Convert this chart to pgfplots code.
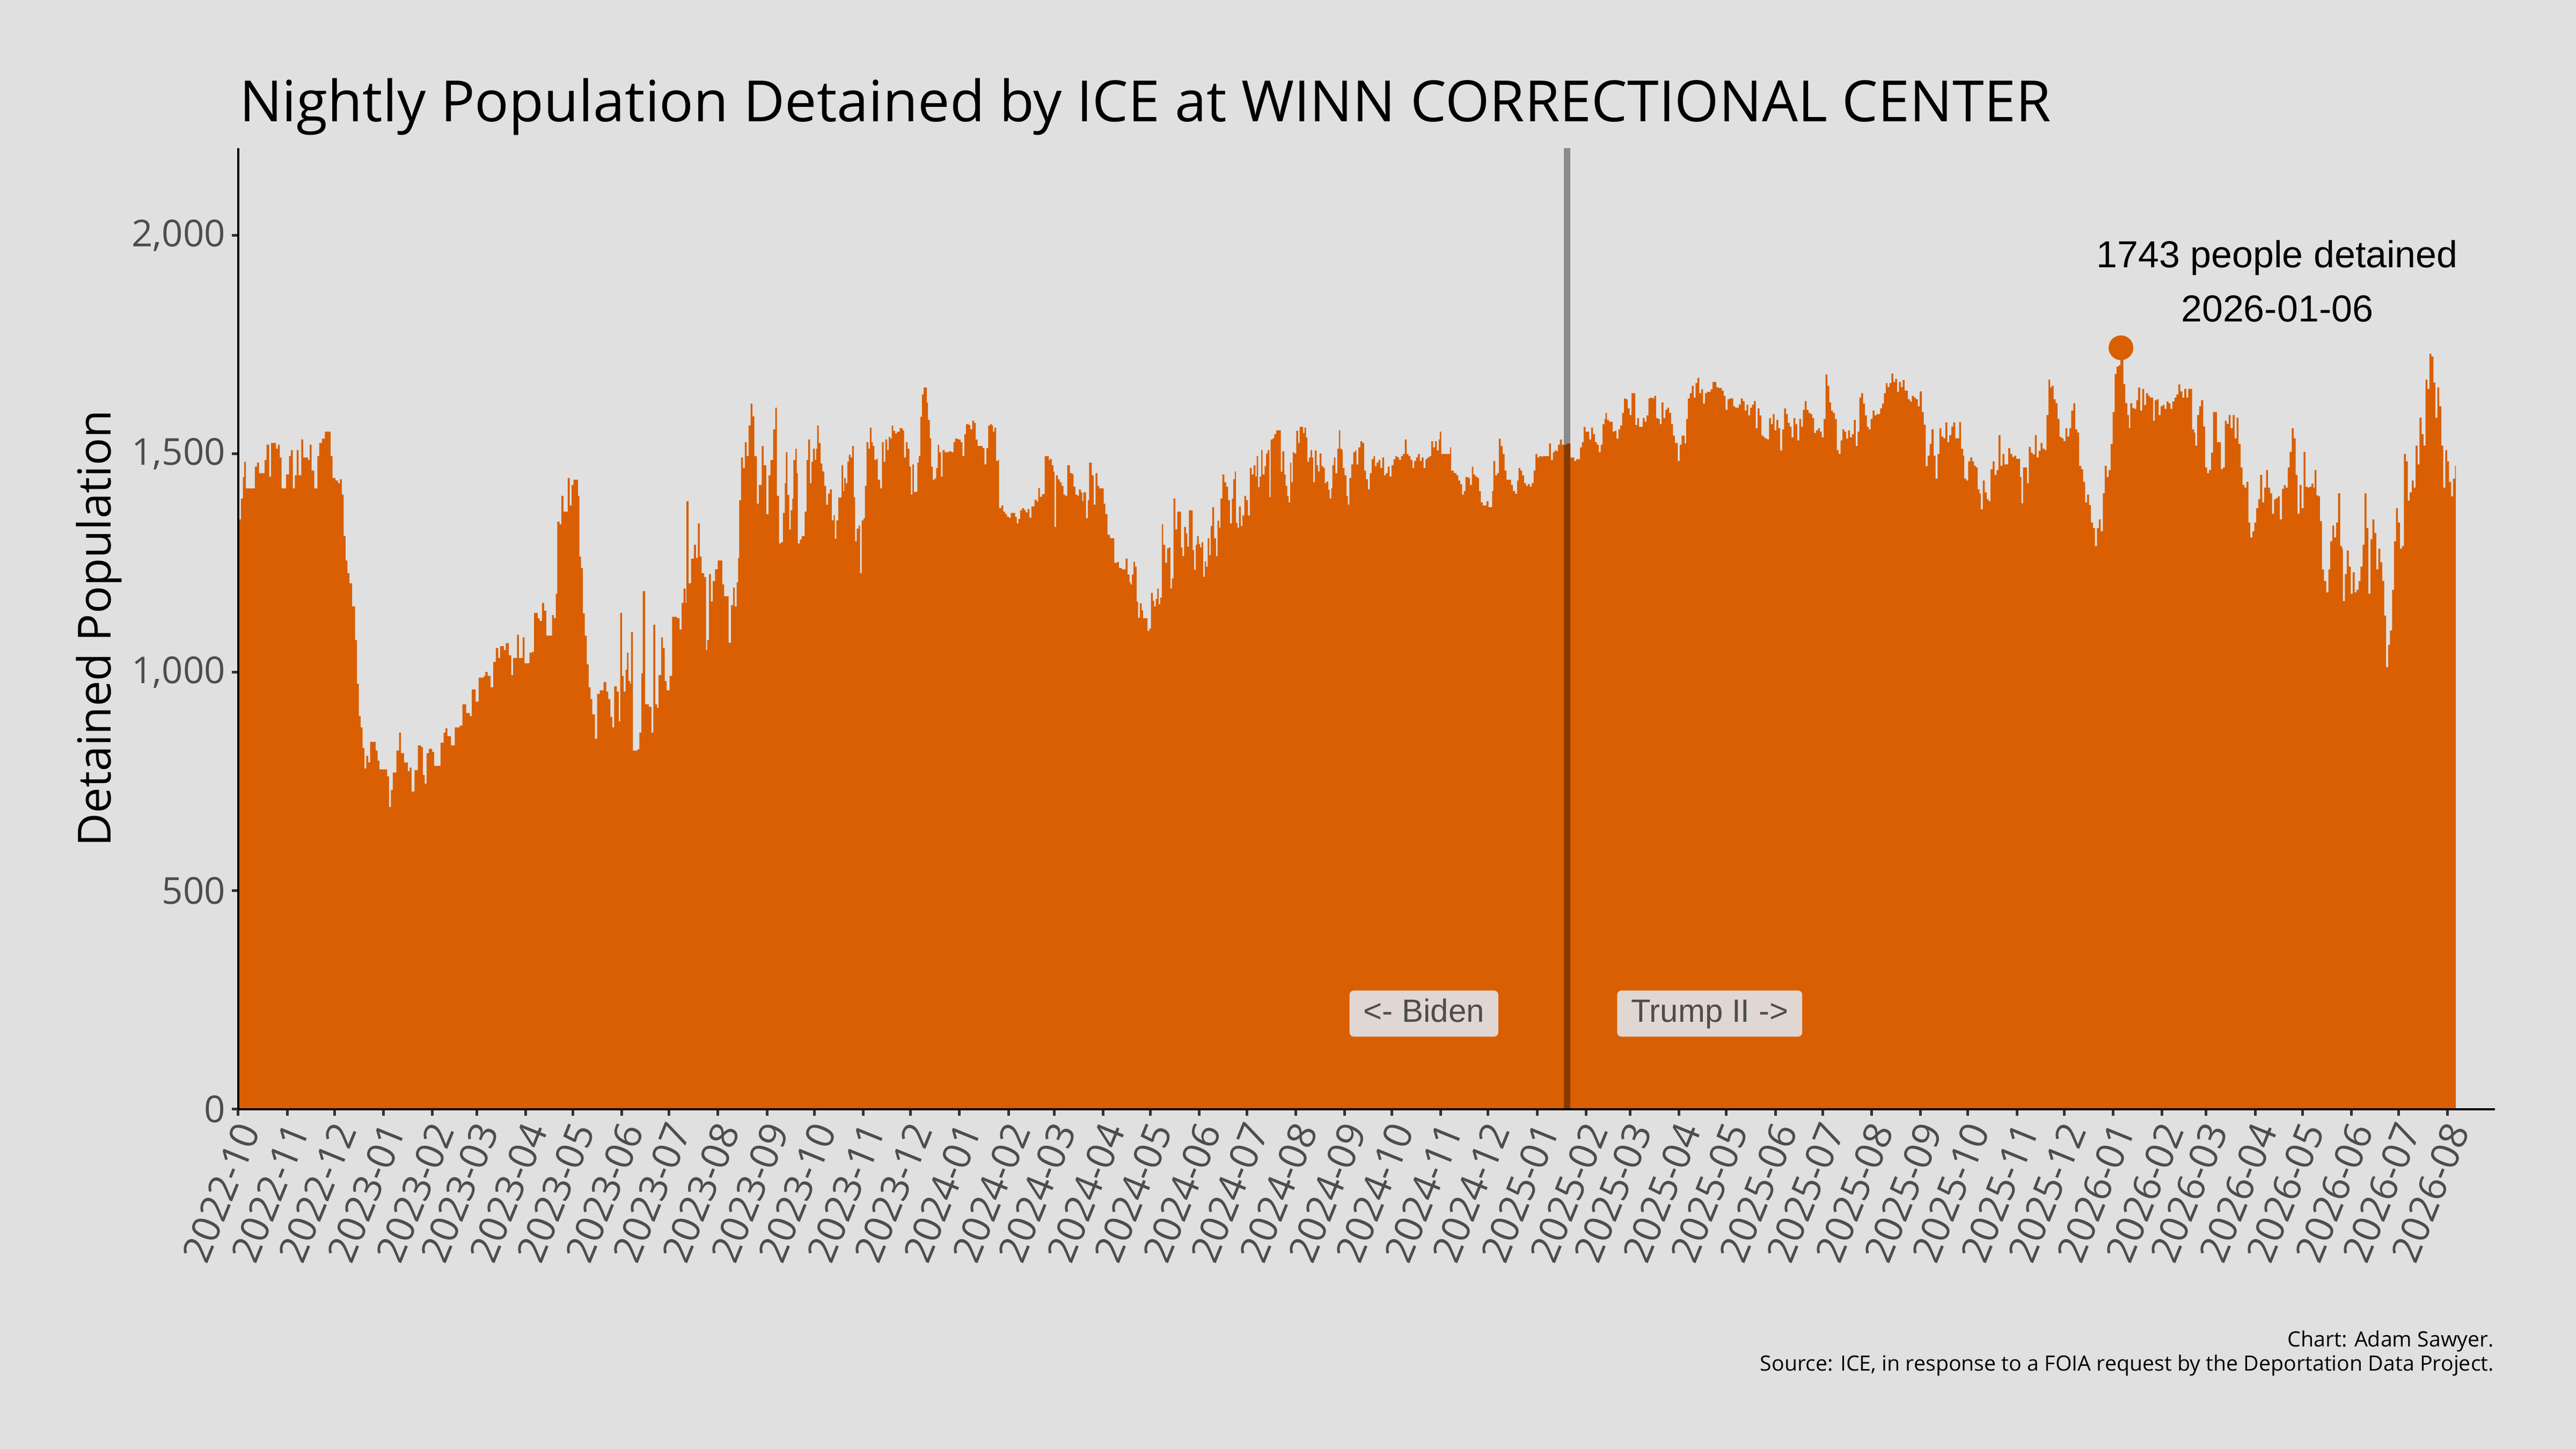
\documentclass[border=0pt]{standalone}
\usepackage{fontspec}
\setmainfont{Open Sans}
\newfontfamily\arialfont{Liberation Sans}
\usepackage{pgfplots}
\pgfplotsset{compat=1.18}
\definecolor{bgc}{RGB}{224,224,224}
\definecolor{ora}{RGB}{217,95,2}
\definecolor{tickc}{RGB}{77,77,77}
\definecolor{tickl}{RGB}{51,51,51}
\definecolor{boxc}{RGB}{224,215,210}
\begin{document}
\begin{tikzpicture}
\fill[bgc] (0,0) rectangle (480pt,270pt);
\useasboundingbox (0,0) rectangle (480pt,270pt);
\begin{axis}[
  at={(44.4pt,63.3pt)}, anchor=south west,
  scale only axis, width=420.5pt, height=179.1pt,
  xmin=0, xmax=1430, ymin=0, ymax=2200,
  axis lines=left, axis line style={-, black, line width=0.45pt},
  axis on top,
  tick align=outside, major tick length=1.2pt,
  tick style={tickl, line width=0.5pt},
  xtick={0,31,61,92,123,151,182,212,243,273,304,335,365,396,426,457,488,517,548,578,609,639,670,701,731,762,792,823,854,882,913,943,974,1004,1035,1066,1096,1127,1157,1188,1219,1247,1278,1308,1339,1369,1400},
  xticklabels={2022-10,2022-11,2022-12,2023-01,2023-02,2023-03,2023-04,2023-05,2023-06,2023-07,2023-08,2023-09,2023-10,2023-11,2023-12,2024-01,2024-02,2024-03,2024-04,2024-05,2024-06,2024-07,2024-08,2024-09,2024-10,2024-11,2024-12,2025-01,2025-02,2025-03,2025-04,2025-05,2025-06,2025-07,2025-08,2025-09,2025-10,2025-11,2025-12,2026-01,2026-02,2026-03,2026-04,2026-05,2026-06,2026-07,2026-08},
  xticklabel style={xshift=2.3pt, yshift=-0.7pt, rotate=68, anchor=east, font=\fontsize{7.2}{8}\selectfont, text=tickc, inner sep=1pt},
  ytick={0,500,1000,1500,2000},
  yticklabels={0,500,{1,000},{1,500},{2,000}},
  yticklabel style={font=\fontsize{6.9}{8}\selectfont, text=tickc, inner sep=1pt},
]
% nightly population
\addplot[const plot, fill=ora, draw=none] coordinates {
(0,1350)(1.7,1398)(2.9,1447)(3.8,1482)(4.8,1421)(10.5,1471)(11.9,1480)(13.1,1456)(16.7,1486)(17.9,1521)(19.6,1448)(20.8,1525)(23.9,1512)(25.1,1521)(26.3,1492)(27.4,1421)(30.3,1453)(32.2,1495)(33.4,1509)(34.6,1421)(35.8,1451)(37.0,1509)(38.2,1451)(39.9,1533)(41.1,1492)(44.2,1486)(45.3,1521)(46.5,1462)(48.2,1421)(50.1,1495)(51.3,1525)(53.0,1535)(54.9,1551)(58.5,1495)(59.7,1445)(61.6,1439)(63.2,1433)(64.4,1442)(65.6,1407)(66.8,1312)(68.0,1256)(69.2,1227)(70.4,1204)(72.1,1151)(74.0,1074)(75.2,974)(76.4,900)(77.6,874)(78.8,827)(80.0,780)(81.1,809)(82.3,794)(83.5,841)(87.1,821)(88.3,798)(89.5,778)(94.3,762)(95.5,692)(96.7,731)(97.9,771)(100.2,821)(101.9,862)(103.1,815)(105.0,794)(107.4,774)(108.6,782)(109.8,727)(111.7,776)(113.8,833)(115.8,829)(116.9,765)(118.1,745)(119.3,815)(120.8,825)(122.9,818)(124.1,786)(128.2,839)(130.1,862)(131.3,872)(132.5,854)(134.8,833)(137.2,874)(140.3,878)(142.0,927)(144.4,907)(146.8,900)(148.0,961)(150.4,933)(152.3,988)(155.6,992)(156.6,1001)(158.0,992)(159.9,966)(161.6,1024)(163.2,1056)(164.7,1033)(165.9,1060)(168.3,1051)(169.5,1067)(171.4,1039)(173.0,994)(174.2,1033)(176.6,1086)(177.8,1033)(180.2,1080)(181.4,1021)(184.5,1045)(186.2,1047)(187.4,1136)(189.7,1124)(190.9,1118)(192.4,1159)(193.8,1141)(195.2,1084)(198.8,1131)(200.0,1124)(201.2,1180)(202.1,1345)(203.6,1339)(204.8,1404)(206.0,1368)(208.8,1445)(210.0,1382)(211.2,1429)(212.4,1441)(215.3,1404)(216.2,1265)(217.2,1239)(218.4,1135)(219.6,1084)(220.8,1018)(222.0,966)(223.2,939)(224.3,904)(226.0,848)(227.4,951)(229.1,959)(231.5,978)(233.2,956)(234.4,939)(235.8,898)(237.0,874)(238.2,968)(239.9,956)(241.1,888)(242.0,1136)(243.2,992)(244.2,956)(245.4,1006)(246.3,1045)(247.3,980)(248.2,974)(248.9,1092)(250.1,821)(253.0,824)(254.2,862)(255.4,998)(256.3,1186)(257.8,927)(260.1,921)(261.8,862)(263.0,1109)(264.2,927)(265.4,919)(266.3,994)(268.0,1080)(269.0,1056)(270.2,980)(271.4,959)(273.3,992)(274.9,1127)(278.0,1124)(279.7,1098)(280.9,1159)(282.1,1192)(283.5,1159)(284.0,1392)(285.4,1204)(286.9,1260)(288.8,1292)(290.0,1262)(291.2,1341)(292.4,1265)(293.6,1227)(295.2,1218)(296.4,1051)(297.1,1074)(298.3,1225)(299.5,1162)(300.7,1209)(302.1,1236)(303.8,1256)(306.7,1201)(307.9,1174)(310.7,1068)(312.2,1154)(313.6,1194)(314.6,1151)(315.8,1206)(316.7,1262)(317.4,1394)(318.6,1492)(319.8,1468)(321.0,1527)(322.2,1495)(323.4,1565)(324.6,1615)(325.8,1586)(327.0,1495)(328.6,1386)(329.8,1429)(331.7,1518)(332.9,1474)(334.6,1362)(336.0,1451)(337.2,1486)(338.9,1556)(340.3,1606)(341.3,1404)
(342.7,1295)(343.9,1298)(345.1,1365)(346.3,1433)(347.0,1504)(348.0,1406)(349.1,1327)(350.1,1371)(351.1,1398)(351.8,1486)(353.0,1512)(353.9,1456)(354.6,1295)(355.8,1304)(357.0,1312)(358.9,1368)(360.1,1486)(361.1,1533)(362.3,1433)(363.2,1482)(364.2,1512)(365.4,1486)(366.1,1512)(366.8,1565)(367.8,1525)(369.0,1478)(370.1,1460)(371.3,1427)(372.5,1384)(373.7,1409)(374.9,1419)(376.1,1348)(377.3,1360)(378.0,1306)(379.0,1348)(380.2,1400)(382.3,1474)(383.3,1415)(384.0,1445)(384.9,1433)(385.9,1482)(386.9,1498)(388.0,1492)(389.0,1518)(390.0,1401)(390.9,1300)(391.9,1329)(393.1,1336)(394.0,1227)(395.0,1348)(396.2,1353)(397.1,1427)(398.1,1527)(399.3,1512)(400.2,1560)(401.2,1527)(402.1,1518)(403.1,1486)(404.3,1489)(405.2,1441)(406.7,1421)(407.9,1527)(409.0,1482)(410.0,1533)(411.2,1509)(412.2,1539)(413.1,1535)(414.1,1565)(415.0,1553)(416.2,1547)(417.4,1551)(419.1,1559)(421.0,1554)(421.9,1492)(423.1,1527)(424.1,1512)(425.3,1471)(426.2,1407)(427.2,1476)(428.1,1413)(430.3,1480)(431.2,1495)(432.2,1585)(433.2,1636)(434.3,1652)(436.3,1618)(437.0,1578)(438.2,1536)(439.1,1471)(440.1,1441)(441.3,1444)(442.2,1468)(443.2,1521)(444.1,1504)(445.3,1448)(446.3,1509)(447.7,1504)(450.1,1506)(452.0,1504)(453.2,1527)(454.2,1535)(456.1,1533)(457.7,1527)(458.9,1495)(460.1,1545)(461.1,1568)(463.0,1566)(463.9,1556)(465.1,1576)(466.3,1571)(467.3,1533)(468.5,1518)(471.6,1513)(472.8,1476)(474.0,1513)(475.2,1565)(476.4,1568)(477.5,1565)(478.3,1551)(479.2,1560)(480.2,1484)(481.4,1486)(482.1,1376)(483.5,1382)(484.7,1368)(485.9,1362)(487.1,1356)(488.3,1354)(489.5,1365)(492.3,1356)(493.3,1341)(494.3,1351)(495.4,1371)(496.6,1376)(497.8,1372)(499.0,1366)(500.2,1374)(501.4,1354)(502.6,1380)(504.5,1395)(506.0,1391)(506.9,1422)(507.9,1402)(509.3,1408)(511.0,1495)(513.6,1486)(514.5,1489)(515.5,1474)(516.5,1459)(517.2,1333)(518.1,1451)(519.3,1442)(520.5,1435)(521.7,1427)(522.9,1407)(524.1,1404)(525.3,1474)(527.0,1456)(528.4,1454)(529.3,1425)(530.5,1407)(531.7,1404)(532.7,1419)(533.9,1412)(534.8,1392)(535.5,1412)(537.2,1353)(538.4,1394)(539.1,1480)(540.8,1451)(542.0,1384)(543.2,1456)(544.4,1427)(545.6,1421)(548.4,1386)(549.4,1362)(550.8,1315)(552.3,1307)(555.1,1251)(557.0,1253)(558.0,1239)(559.9,1236)(562.3,1260)(563.5,1224)(564.7,1207)(565.4,1201)(566.3,1224)(567.3,1253)(568.2,1242)(569.2,1162)(570.2,1125)(571.3,1158)(572.5,1142)(573.3,1124)(576.1,1095)(577.3,1100)(578.3,1182)(579.5,1164)(580.4,1151)(581.4,1168)(582.3,1192)(583.3,1156)(584.2,1171)(585.2,1339)(586.1,1292)(587.3,1251)(588.5,1284)(589.7,1286)(590.7,1192)(591.6,1215)(592.6,1398)(593.8,1327)(595.0,1368)(597.4,1286)(598.3,1266)(599.3,1333)(600.5,1318)(601.4,1288)(602.4,1371)(604.8,1280)(605.7,1235)(606.7,1292)(607.6,1312)(608.6,1294)(609.5,1286)(610.5,1298)(611.4,1219)(612.4,1254)(613.3,1242)(614.3,1307)(615.3,1268)(616.2,1335)(617.2,1378)(618.4,1307)(619.6,1266)(620.5,1347)(621.5,1331)(622.4,1398)(623.6,1453)(624.8,1435)(626.0,1425)(627.2,1394)(628.4,1341)(629.6,1398)(630.5,1442)(631.5,1460)(632.2,1342)(633.2,1331)(634.1,1380)(635.3,1335)(636.3,1359)(637.5,1404)(638.6,1394)(639.8,1359)(641.0,1468)(642.2,1453)(643.4,1474)(644.6,1448)(645.3,1495)(646.3,1424)(647.2,1448)(648.2,1509)(649.1,1453)(650.3,1472)(651.3,1501)(652.3,1509)(653.4,1401)(654.2,1533)(655.4,1536)(656.5,1545)(657.7,1554)(660.6,1459)(661.6,1506)(662.8,1453)(663.7,1427)(664.7,1404)(665.6,1389)(666.6,1480)(667.3,1435)(668.2,1504)(669.2,1501)(670.4,1553)(671.6,1525)(672.5,1562)(674.7,1548)(675.6,1560)(676.6,1538)(677.5,1482)(678.5,1492)(679.5,1509)(680.4,1492)(681.1,1435)(682.1,1508)(683.3,1474)(684.2,1460)(685.2,1501)(686.4,1472)(687.6,1468)(688.5,1433)(689.5,1437)(690.7,1418)(691.6,1398)(692.6,1421)(693.3,1474)(694.3,1492)(695.2,1456)(696.4,1512)(697.4,1554)(698.3,1512)(699.3,1509)
(699.8,1468)(701.0,1451)(702.2,1404)(703.1,1384)(704.1,1445)(705.3,1476)(706.5,1504)(707.7,1508)(708.6,1476)(709.8,1515)(711.0,1529)(712.2,1525)(713.4,1462)(714.6,1442)(715.8,1419)(717.0,1456)(718.2,1488)(719.4,1495)(720.3,1472)(721.3,1480)(722.5,1486)(723.7,1468)(724.9,1492)(726.1,1451)(727.2,1456)(728.4,1471)(729.6,1448)(730.8,1474)(732.0,1488)(733.2,1495)(734.4,1492)(735.6,1486)(736.8,1495)(738.0,1500)(739.2,1533)(740.4,1500)(741.6,1495)(742.8,1486)(744.0,1468)(745.1,1484)(746.3,1492)(747.5,1500)(748.7,1484)(749.9,1492)(751.1,1468)(752.3,1488)(753.5,1492)(754.7,1495)(755.9,1529)(757.1,1515)(758.3,1529)(759.5,1508)(760.7,1533)(761.4,1551)(762.3,1500)(767.8,1515)(768.5,1462)(770.2,1456)(771.9,1451)(773.1,1439)(774.3,1431)(775.5,1407)(776.6,1415)(777.6,1447)(779.3,1445)(780.5,1429)(781.7,1471)(782.6,1453)(783.8,1448)(785.2,1445)(786.2,1415)(787.4,1389)(788.6,1382)(790.0,1382)(791.0,1392)(792.2,1378)(793.6,1378)(794.5,1415)(795.3,1484)(796.5,1451)(797.7,1456)(798.8,1535)(800.0,1518)(801.2,1500)(802.4,1462)(803.6,1441)(804.8,1441)(806.5,1429)(807.7,1415)(809.1,1409)(810.3,1439)(811.3,1468)(812.4,1462)(813.6,1451)(814.8,1433)(816.0,1427)(817.2,1431)(818.4,1425)(819.6,1433)(820.8,1462)(822.0,1500)(823.2,1492)(824.4,1495)(825.6,1494)(826.8,1495)(830.6,1524)(831.8,1486)(833.0,1504)(834.2,1508)(835.4,1506)(836.3,1521)(837.5,1533)(838.7,1521)(840.1,1521)(841.8,1524)(844.2,1492)(845.4,1492)(846.6,1484)(847.8,1488)(849.0,1488)(850.2,1515)(851.4,1527)(852.5,1562)(853.7,1551)(854.9,1551)(856.1,1533)(857.3,1560)(858.5,1545)(859.7,1527)(860.9,1521)(862.1,1504)(863.3,1521)(864.5,1568)(865.7,1580)(866.4,1594)(867.3,1578)(868.5,1574)(869.7,1574)(870.9,1551)(872.1,1553)(873.3,1535)(874.5,1556)(875.7,1565)(876.9,1594)(878.1,1627)(879.3,1625)(880.5,1604)(881.7,1589)(882.9,1639)(884.3,1639)(885.2,1566)(886.4,1582)(887.6,1562)(888.8,1562)(890.0,1582)(891.2,1574)(892.4,1588)(893.6,1627)(894.8,1629)(896.0,1627)(897.2,1633)(898.4,1582)(899.6,1580)(900.8,1568)(901.9,1618)(903.1,1582)(904.3,1601)(905.5,1606)(906.7,1594)(907.9,1568)(909.1,1542)(910.3,1525)(911.5,1525)(912.2,1484)(913.4,1521)(914.6,1542)(915.8,1542)(916.5,1524)(917.5,1580)(918.6,1627)(919.8,1639)(921.0,1656)(922.2,1629)(923.4,1662)(924.6,1674)(925.8,1639)(927.0,1648)(928.2,1615)(929.4,1639)(930.6,1642)(931.8,1642)(933.0,1648)(934.2,1665)(935.4,1665)(936.6,1653)(937.8,1651)(939.0,1651)(940.1,1645)(941.3,1633)(942.5,1601)(943.7,1625)(944.9,1627)(946.1,1627)(947.3,1609)(948.5,1606)(949.7,1606)(950.9,1613)(952.1,1627)(953.3,1621)(954.5,1599)(955.7,1613)(956.8,1588)(958.0,1606)(959.2,1613)(960.4,1621)(961.6,1559)(962.8,1604)(964.0,1588)(965.2,1542)(966.4,1538)(967.6,1535)(968.8,1533)(970.0,1582)(971.2,1568)(972.4,1591)(973.5,1554)(974.7,1578)(975.9,1559)(977.1,1508)(978.3,1556)(979.5,1604)(980.7,1591)(981.9,1571)(983.1,1562)(984.3,1538)(985.5,1582)(986.7,1568)(987.9,1531)(989.1,1580)(990.3,1562)(991.4,1601)(992.6,1621)(993.8,1601)(995.0,1594)(996.2,1591)(997.4,1582)(998.6,1548)(999.8,1554)(1001.0,1559)(1002.2,1551)(1003.4,1538)(1004.6,1580)(1005.8,1682)(1007.0,1656)(1008.2,1618)(1009.3,1599)(1010.5,1594)(1011.7,1580)(1012.9,1509)(1014.1,1500)(1015.3,1531)(1016.5,1556)(1017.7,1551)(1018.9,1535)(1020.1,1554)(1021.3,1538)(1022.5,1545)(1023.7,1578)(1024.9,1518)(1026.1,1551)(1027.2,1629)(1028.4,1639)(1029.6,1615)(1030.8,1588)(1032.0,1562)(1033.2,1556)(1034.4,1580)(1035.6,1599)(1036.8,1588)(1038.0,1591)(1039.2,1591)(1040.4,1604)(1041.6,1615)(1042.8,1639)(1044.0,1662)(1045.1,1653)(1046.3,1662)(1047.5,1684)(1048.7,1665)(1049.9,1672)(1051.1,1642)(1052.3,1665)(1053.5,1653)(1054.7,1669)(1055.9,1645)
(1058.0,1625)(1059.3,1620)(1060.5,1633)(1061.8,1629)(1063.0,1625)(1064.3,1609)(1065.5,1643)(1066.8,1596)(1068.0,1567)(1069.3,1472)(1070.5,1496)(1071.8,1523)(1073.0,1556)(1074.3,1496)(1075.5,1443)(1076.8,1500)(1078.0,1559)(1079.2,1540)(1080.5,1536)(1081.7,1572)(1083.0,1527)(1084.2,1543)(1085.5,1563)(1086.7,1572)(1088.0,1536)(1090.5,1573)(1091.7,1512)(1093.0,1496)(1093.7,1443)(1095.0,1439)(1096.2,1483)(1097.5,1492)(1098.7,1483)(1099.9,1473)(1101.2,1469)(1102.2,1419)(1103.4,1409)(1104.2,1373)(1105.4,1439)(1106.7,1412)(1107.9,1396)(1109.2,1392)(1110.4,1465)(1111.7,1483)(1112.9,1452)(1114.2,1463)(1115.4,1543)(1116.7,1473)(1117.9,1500)(1119.1,1476)(1121.6,1513)(1122.9,1500)(1124.1,1493)(1125.4,1496)(1126.6,1489)(1129.1,1447)(1129.9,1387)(1130.9,1469)(1133.4,1433)(1134.6,1516)(1135.9,1503)(1137.1,1499)(1138.4,1543)(1139.6,1492)(1140.8,1507)(1142.1,1525)(1143.3,1512)(1144.6,1509)(1145.8,1589)(1147.1,1670)(1148.1,1652)(1149.1,1656)(1150.3,1625)(1151.6,1616)(1152.8,1580)(1154.1,1539)(1155.3,1536)(1156.6,1529)(1157.8,1559)(1159.0,1540)(1160.3,1559)(1161.5,1599)(1162.8,1616)(1164.0,1556)(1165.3,1549)(1166.5,1473)(1167.8,1465)(1169.0,1436)(1170.3,1389)(1171.5,1407)(1172.8,1383)(1174.0,1343)(1175.3,1330)(1176.5,1289)(1177.8,1330)(1179.0,1350)(1180.2,1323)(1181.5,1410)(1182.7,1473)(1184.0,1447)(1185.2,1463)(1186.5,1523)(1187.7,1596)(1189.0,1683)(1190.2,1700)(1191.5,1703)(1192.7,1723)(1193.5,1743)(1194.5,1660)(1195.7,1616)(1197.0,1589)(1198.0,1559)(1198.9,1616)(1200.2,1605)(1201.4,1603)(1202.7,1623)(1203.9,1652)(1205.2,1599)(1206.4,1649)(1207.7,1612)(1208.9,1639)(1210.2,1633)(1211.4,1629)(1213.4,1576)(1214.4,1623)(1215.7,1625)(1216.9,1589)(1218.2,1609)(1219.4,1612)(1220.6,1603)(1221.9,1620)(1223.1,1616)(1224.4,1603)(1225.6,1620)(1226.9,1629)(1228.1,1636)(1229.4,1659)(1230.6,1643)(1231.9,1629)(1233.1,1649)(1234.4,1629)(1235.6,1649)(1238.1,1556)(1239.3,1549)(1240.1,1519)(1241.3,1589)(1242.6,1609)(1243.8,1623)(1245.1,1563)(1246.3,1469)(1247.6,1456)(1248.8,1463)(1250.1,1503)(1251.3,1596)(1253.8,1527)(1256.3,1465)(1257.6,1469)(1258.8,1576)(1260.0,1569)(1261.3,1589)(1262.5,1559)(1263.8,1589)(1265.0,1536)(1266.3,1583)(1267.5,1523)(1268.8,1469)(1270.0,1429)(1271.3,1423)(1272.5,1436)(1273.8,1343)(1275.0,1309)(1276.3,1323)(1277.5,1343)(1278.7,1376)(1280.0,1396)(1281.2,1452)(1282.5,1389)(1283.7,1423)(1285.0,1463)(1286.2,1423)(1287.5,1410)(1288.7,1363)(1290.0,1396)(1291.2,1399)(1292.5,1403)(1293.7,1350)(1295.0,1420)(1296.2,1429)(1297.4,1423)(1298.7,1469)(1299.9,1505)(1301.2,1559)(1302.4,1536)(1303.7,1452)(1304.9,1363)(1306.2,1429)(1307.4,1376)(1308.7,1505)(1309.9,1425)(1311.2,1423)(1312.4,1425)(1313.7,1432)(1314.9,1423)(1315.7,1463)(1316.9,1405)(1318.2,1403)(1319.1,1346)(1320.4,1236)(1321.6,1209)(1323.1,1183)(1324.4,1236)(1325.6,1300)(1326.9,1336)(1328.1,1309)(1329.4,1343)(1330.6,1410)(1331.9,1289)(1333.1,1283)(1333.6,1163)(1334.9,1225)(1336.1,1279)(1337.4,1242)(1338.6,1180)(1339.8,1229)(1341.1,1183)(1342.3,1189)(1343.6,1209)(1344.8,1242)(1346.1,1292)(1347.3,1410)(1348.6,1330)(1349.8,1180)(1351.1,1305)(1352.3,1350)(1353.6,1319)(1354.8,1236)(1356.1,1283)(1357.3,1252)(1358.5,1209)(1359.8,1130)(1361.0,1012)(1362.3,1063)(1363.5,1096)(1364.8,1189)(1366.0,1300)(1367.3,1376)(1368.5,1343)(1369.8,1283)(1371.0,1289)(1372.3,1500)(1373.5,1483)(1374.8,1393)(1376.0,1412)(1377.3,1439)(1378.5,1423)(1379.7,1519)(1381.0,1476)(1382.2,1583)(1383.5,1545)(1384.7,1519)(1386.0,1670)(1387.2,1649)(1388.5,1729)(1389.7,1723)(1391.0,1663)(1392.2,1583)(1393.5,1652)(1394.7,1609)(1396.0,1519)(1397.2,1423)(1398.5,1509)(1399.7,1483)(1400.9,1436)(1402.2,1403)(1403.4,1443)(1404.7,1473)(1405.2,1473)
} \closedcycle;
% inauguration line, 2025-01-20
\addplot[black, opacity=0.38, line width=1.26pt] coordinates {(842,0) (842,2200)};
% maximum
\addplot[only marks, mark=*, mark size=2.1pt, ora] coordinates {(1193,1743)};
\node[anchor=base, font=\arialfont\fontsize{7}{8}\selectfont] at (axis cs:1292,1927) {1743 people detained};
\node[anchor=base, font=\arialfont\fontsize{7}{8}\selectfont] at (axis cs:1292,1803) {2026-01-06};
\node[fill=boxc, rounded corners=0.8pt, text=tickc, font=\arialfont\fontsize{6}{7}\selectfont, inner ysep=0pt, text height=5.9pt, text depth=2.7pt, inner xsep=2.6pt] at (axis cs:751.3,219) {<- Biden};
\node[fill=boxc, rounded corners=0.8pt, text=tickc, font=\arialfont\fontsize{6}{7}\selectfont, inner ysep=0pt, text height=5.9pt, text depth=2.7pt, inner xsep=2.6pt] at (axis cs:932.4,219) {Trump II ->};
\end{axis}
\node[anchor=base west, inner sep=0pt, font=\fontsize{10.6}{12}\selectfont] at (44.4pt,247.3pt) {Nightly Population Detained by ICE at WINN CORRECTIONAL CENTER};
\node[rotate=90, font=\fontsize{8.5}{10}\selectfont] at (18.4pt,152.9pt) {Detained Population};
\node[anchor=base east, inner sep=0pt, font=\fontsize{3.93}{4.5}\selectfont] at (464.9pt,19pt) {Chart: Adam Sawyer.};
\node[anchor=base east, inner sep=0pt, font=\fontsize{3.93}{4.5}\selectfont] at (464.9pt,14.5pt) {Source: ICE, in response to a FOIA request by the Deportation Data Project.};
\end{tikzpicture}
\end{document}
